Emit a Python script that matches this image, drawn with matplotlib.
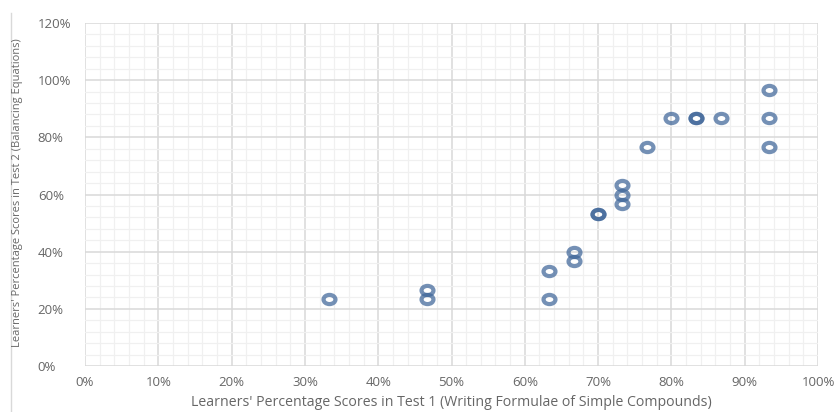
import numpy as np
import matplotlib
matplotlib.use("Agg")
import matplotlib.pyplot as plt
from matplotlib.path import Path
from matplotlib.ticker import MultipleLocator, PercentFormatter
from matplotlib.lines import Line2D

# scores (percent)
test1 = [33.3, 46.7, 46.7, 63.3, 63.3, 66.7, 66.7, 70.0, 70.0,
         73.3, 73.3, 73.3, 76.7, 80.0, 83.3, 83.3, 86.7, 93.3, 93.3, 93.3]
test2 = [23.3, 26.7, 23.3, 33.3, 23.3, 40.0, 36.7, 53.3, 53.3,
         63.3, 60.0, 56.7, 76.7, 86.7, 86.7, 86.7, 86.7, 96.7, 86.7, 76.7]

xlabel = "Learners' Percentage Scores in Test 1 (Writing Formulae of Simple Compounds)"
ylabel = "Learners' Percentage Scores in Test 2 (Balancing Equations)"

plt.rcParams['font.family'] = ['Open Sans', 'DejaVu Sans']

fig = plt.figure(figsize=(8.38, 4.12), dpi=100)
ax = fig.add_axes([85 / 838, 1 - 366 / 412, 733 / 838, 343 / 412])

# slightly wide ring marker, like the stretched original
circ = Path.unit_circle()
ring = Path(circ.vertices * np.array([1.3, 1.0]), circ.codes)

ax.plot(test1, test2, linestyle='none', marker=ring, markersize=8.6,
        markerfacecolor='none', markeredgecolor='#3f6699',
        markeredgewidth=3.0, alpha=0.72, zorder=3)

ax.set_xlim(0, 100)
ax.set_ylim(0, 120)
ax.xaxis.set_major_locator(MultipleLocator(10))
ax.xaxis.set_minor_locator(MultipleLocator(2))
ax.yaxis.set_major_locator(MultipleLocator(20))
ax.yaxis.set_minor_locator(MultipleLocator(4))
ax.xaxis.set_major_formatter(PercentFormatter(decimals=0))
ax.yaxis.set_major_formatter(PercentFormatter(decimals=0))

ax.grid(which='major', color='#d9d9d9', linewidth=1.1, zorder=1)
ax.grid(which='minor', color='#f0f0f0', linewidth=0.9, zorder=0)
ax.set_axisbelow(True)
for s in ax.spines.values():
    s.set_visible(False)

ax.tick_params(which='both', length=0)
ax.tick_params(axis='x', pad=7, labelsize=9.5, labelcolor='#666666')
ax.tick_params(axis='y', pad=34, labelsize=9.5, labelcolor='#666666')
for lab in ax.get_yticklabels():
    lab.set_horizontalalignment('left')

fig.text(451 / 838, 1 - 403 / 412, xlabel, fontsize=10.2,
         color='#666666', ha='center', va='center')
fig.text(18 / 838, 1 - 193 / 412, ylabel, rotation=90, fontsize=8.0,
         color='#666666', ha='center', va='center')

# chart frame line on the left
fig.add_artist(Line2D([11 / 838, 11 / 838], [0, 1 - 13 / 412],
                      color='#d9d9d9', linewidth=1))

fig.savefig('out.png', dpi=100)
